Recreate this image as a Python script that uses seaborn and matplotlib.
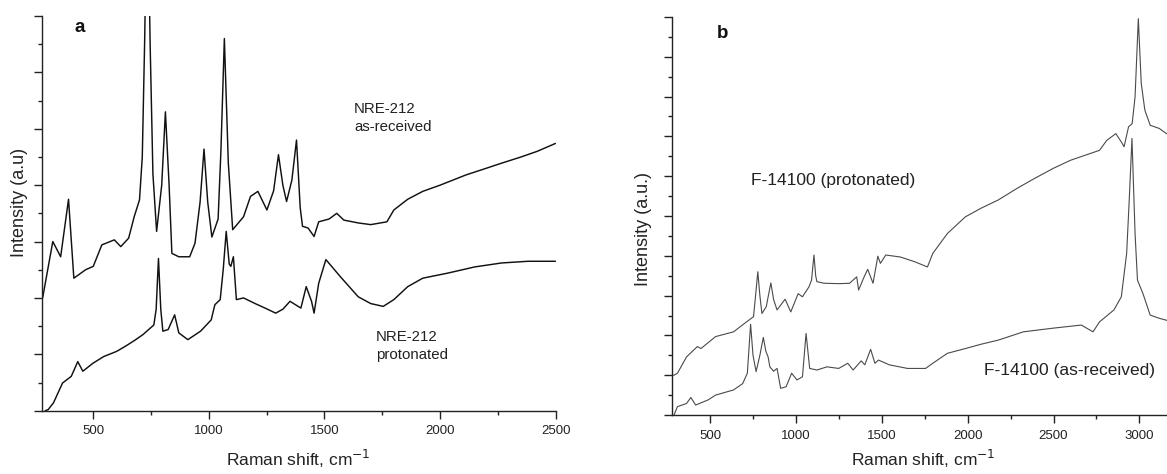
import numpy as np
import pandas as pd
import matplotlib
matplotlib.use("Agg")
import matplotlib.pyplot as plt
import seaborn as sns
from matplotlib.ticker import MultipleLocator, NullFormatter

# ---------------- data ----------------
# Panel a : NRE-212 as-received
nre_ar_x = [281, 325, 359, 393, 416, 467, 500, 537, 591, 619, 653, 677, 700, 712, 722, 734, 746, 758,
            774, 796, 812, 828, 840, 870, 917, 940, 962, 979, 995, 1013, 1040, 1052, 1067, 1084, 1103,
            1150, 1180, 1212, 1251, 1280, 1301, 1320, 1336, 1359, 1379, 1395, 1405, 1429, 1455, 1475,
            1520, 1553, 1584, 1646, 1700, 1770, 1800, 1860, 1925, 2000, 2111, 2200, 2266, 2350, 2420, 2499]
nre_ar_y = [2.0, 3.0, 2.73, 3.75, 2.35, 2.5, 2.56, 2.94, 3.03, 2.91, 3.06, 3.44, 3.74, 4.5, 6.5, 9.5, 6.5, 4.2,
            3.18, 4.0, 5.3, 4.0, 2.79, 2.73, 2.73, 2.97, 3.7, 4.64, 3.7, 3.08, 3.4, 4.6, 6.6, 4.4, 3.21,
            3.44, 3.8, 3.89, 3.56, 3.9, 4.54, 4.0, 3.71, 4.09, 4.8, 3.6, 3.27, 3.24, 3.09, 3.35,
            3.4, 3.5, 3.38, 3.33, 3.3, 3.35, 3.56, 3.75, 3.89, 4.0, 4.18, 4.3, 4.39, 4.5, 4.6, 4.74]

# Panel a : NRE-212 protonated
nre_pr_x = [292, 305, 328, 367, 405, 433, 455, 498, 545, 600, 638, 680, 715, 762, 772, 782, 792, 801, 824,
            852, 870, 909, 964, 1010, 1026, 1049, 1062, 1075, 1088, 1095, 1106, 1119, 1150, 1200, 1243,
            1289, 1320, 1351, 1398, 1421, 1444, 1455, 1475, 1506, 1568, 1646, 1700, 1754, 1800, 1860,
            1925, 2033, 2150, 2266, 2380, 2499]
nre_pr_y = [0.0, 0.02, 0.14, 0.49, 0.61, 0.87, 0.7, 0.84, 0.96, 1.05, 1.14, 1.25, 1.35, 1.52, 1.8, 2.7, 1.8,
            1.41, 1.44, 1.7, 1.38, 1.26, 1.41, 1.61, 1.88, 1.97, 2.5, 3.18, 2.6, 2.56, 2.73, 1.97, 2.0,
            1.9, 1.82, 1.73, 1.8, 1.94, 1.82, 2.2, 1.94, 1.73, 2.26, 2.68, 2.38, 2.02, 1.9, 1.85, 1.97,
            2.2, 2.35, 2.44, 2.55, 2.62, 2.65, 2.65]

# Panel b : F-14100 protonated
f_pr_x = [280, 290, 310, 363, 426, 447, 532, 637, 700, 753, 765, 778, 790, 802, 827, 854, 870, 890, 911,
          937, 970, 1013, 1038, 1076, 1091, 1105, 1115, 1122, 1165, 1250, 1312, 1354, 1365, 1397, 1418,
          1449, 1477, 1492, 1523, 1608, 1692, 1766, 1797, 1882, 1987, 2080, 2177, 2290, 2388, 2500,
          2599, 2700, 2768, 2810, 2863, 2895, 2911, 2937, 2958, 2975, 2994, 3011, 3032, 3063, 3116,
          3158, 3200]
f_pr_y = [1.0, 1.0, 1.05, 1.46, 1.72, 1.67, 1.97, 2.09, 2.3, 2.47, 3.0, 3.6, 3.0, 2.55, 2.72, 3.32, 2.9,
          2.64, 2.76, 2.91, 2.59, 3.05, 2.97, 3.22, 3.39, 4.02, 3.5, 3.35, 3.31, 3.3, 3.31, 3.47, 3.14,
          3.47, 3.66, 3.31, 3.99, 3.81, 4.02, 3.97, 3.85, 3.72, 4.06, 4.56, 4.98, 5.2, 5.4, 5.7, 5.94,
          6.2, 6.4, 6.55, 6.65, 6.9, 7.07, 6.86, 6.74, 7.24, 7.32, 7.99, 9.96, 8.33, 7.66, 7.28, 7.2,
          7.07, 7.05]

# Panel b : F-14100 as-received
f_ar_x = [290, 310, 363, 388, 416, 489, 532, 637, 690, 717, 736, 750, 768, 790, 810, 825, 838, 848, 870,
          890, 911, 943, 975, 1006, 1038, 1059, 1080, 1122, 1181, 1249, 1302, 1333, 1380, 1401, 1435,
          1460, 1481, 1544, 1650, 1755, 1797, 1882, 1987, 2080, 2177, 2325, 2494, 2662, 2730, 2768,
          2852, 2895, 2926, 2941, 2957, 2975, 2989, 3021, 3063, 3116, 3158, 3200]
f_ar_y = [0.0, 0.21, 0.29, 0.44, 0.25, 0.38, 0.5, 0.63, 0.79, 1.05, 2.28, 1.5, 1.09, 1.5, 1.95, 1.6, 1.46,
          1.21, 1.1, 1.17, 0.67, 0.71, 1.05, 0.88, 0.96, 2.05, 1.17, 1.13, 1.21, 1.17, 1.3, 1.13, 1.36,
          1.26, 1.65, 1.3, 1.38, 1.26, 1.17, 1.17, 1.3, 1.55, 1.67, 1.78, 1.88, 2.09, 2.18, 2.26, 2.09,
          2.34, 2.64, 2.97, 4.06, 5.4, 6.95, 4.56, 3.39, 3.05, 2.51, 2.43, 2.38, 2.39]

x_ticks_a = [500, 1000, 1500, 2000, 2500]
x_ticks_b = [500, 1000, 1500, 2000, 2500, 3000]

# ---------------- styling ----------------
sns.set_style("ticks")
plt.rcParams['font.family'] = ['Liberation Sans', 'DejaVu Sans']

W, H = 1167, 474
fig = plt.figure(figsize=(W / 100, H / 100), dpi=100)

def frac_box(l, r, t, b):
    return [l / W, (H - b) / H, (r - l) / W, (b - t) / H]

ax_a = fig.add_axes(frac_box(41.7, 555.7, 16, 410.7))
ax_b = fig.add_axes(frac_box(672.3, 1173.7, 17, 415))

df_a1 = pd.DataFrame({"x": nre_ar_x, "y": nre_ar_y})
df_a2 = pd.DataFrame({"x": nre_pr_x, "y": nre_pr_y})
df_b1 = pd.DataFrame({"x": f_pr_x, "y": f_pr_y})
df_b2 = pd.DataFrame({"x": f_ar_x, "y": f_ar_y})

for df in (df_a1, df_a2):
    sns.lineplot(data=df, x="x", y="y", ax=ax_a, color="#111111", linewidth=1.05,
                 estimator=None, sort=False)
for df in (df_b1, df_b2):
    sns.lineplot(data=df, x="x", y="y", ax=ax_b, color="#4a4a4a", linewidth=0.8,
                 estimator=None, sort=False)

ax_a.set_xlim(277, 2500)
ax_a.set_ylim(0, 7)
ax_b.set_xlim(280, 3200)
ax_b.set_ylim(0, 10)

for ax, xt in ((ax_a, x_ticks_a), (ax_b, x_ticks_b)):
    sns.despine(ax=ax)
    for s in ("left", "bottom"):
        ax.spines[s].set_color("#222222")
        ax.spines[s].set_linewidth(1.0)
    ax.set_xticks(xt)
    ax.xaxis.set_minor_locator(MultipleLocator(250))
    ax.yaxis.set_major_locator(MultipleLocator(1))
    ax.yaxis.set_minor_locator(MultipleLocator(0.5))
    ax.yaxis.set_major_formatter(NullFormatter())
    ax.tick_params(axis="both", which="major", direction="out", length=5.5, width=1.0,
                   color="#222222", labelsize=9.5, labelcolor="#222222", pad=5)
    ax.tick_params(axis="both", which="minor", direction="out", length=3.2, width=1.0,
                   color="#222222")
    ax.set_xlabel("Raman shift, cm$^{-1}$", fontsize=12.5, color="#222222")

ax_a.set_ylabel("Intensity (a.u)", fontsize=13, color="#222222")
ax_b.set_ylabel("Intensity (a.u.)", fontsize=13, color="#222222")
ax_a.yaxis.set_label_coords(-0.027, 0.527)
ax_b.yaxis.set_label_coords(-0.040, 0.467)
ax_a.xaxis.set_label_coords(0.5, -0.094)
ax_b.xaxis.set_label_coords(0.5, -0.083)

# panel letters and annotations (figure pixel positions)
def ftext(x, y, s, **kw):
    fig.text(x / W, (H - y) / H, s, **kw)

ftext(80, 28, "a", fontsize=13.5, fontweight="bold", ha="center", va="center", color="#111111")
ftext(722.7, 33, "b", fontsize=13.5, fontweight="bold", ha="center", va="center", color="#111111")
ftext(354, 118, "NRE-212\nas-received", fontsize=10.8, ha="left", va="center",
      color="#222222", linespacing=1.45)
ftext(376, 346, "NRE-212\nprotonated", fontsize=10.8, ha="left", va="center",
      color="#222222", linespacing=1.45)
ftext(751, 181, "F-14100 (protonated)", fontsize=12.5, ha="left", va="center", color="#222222")
ftext(984, 370, "F-14100 (as-received)", fontsize=12.5, ha="left", va="center", color="#222222")

fig.savefig("out.png", dpi=100)
